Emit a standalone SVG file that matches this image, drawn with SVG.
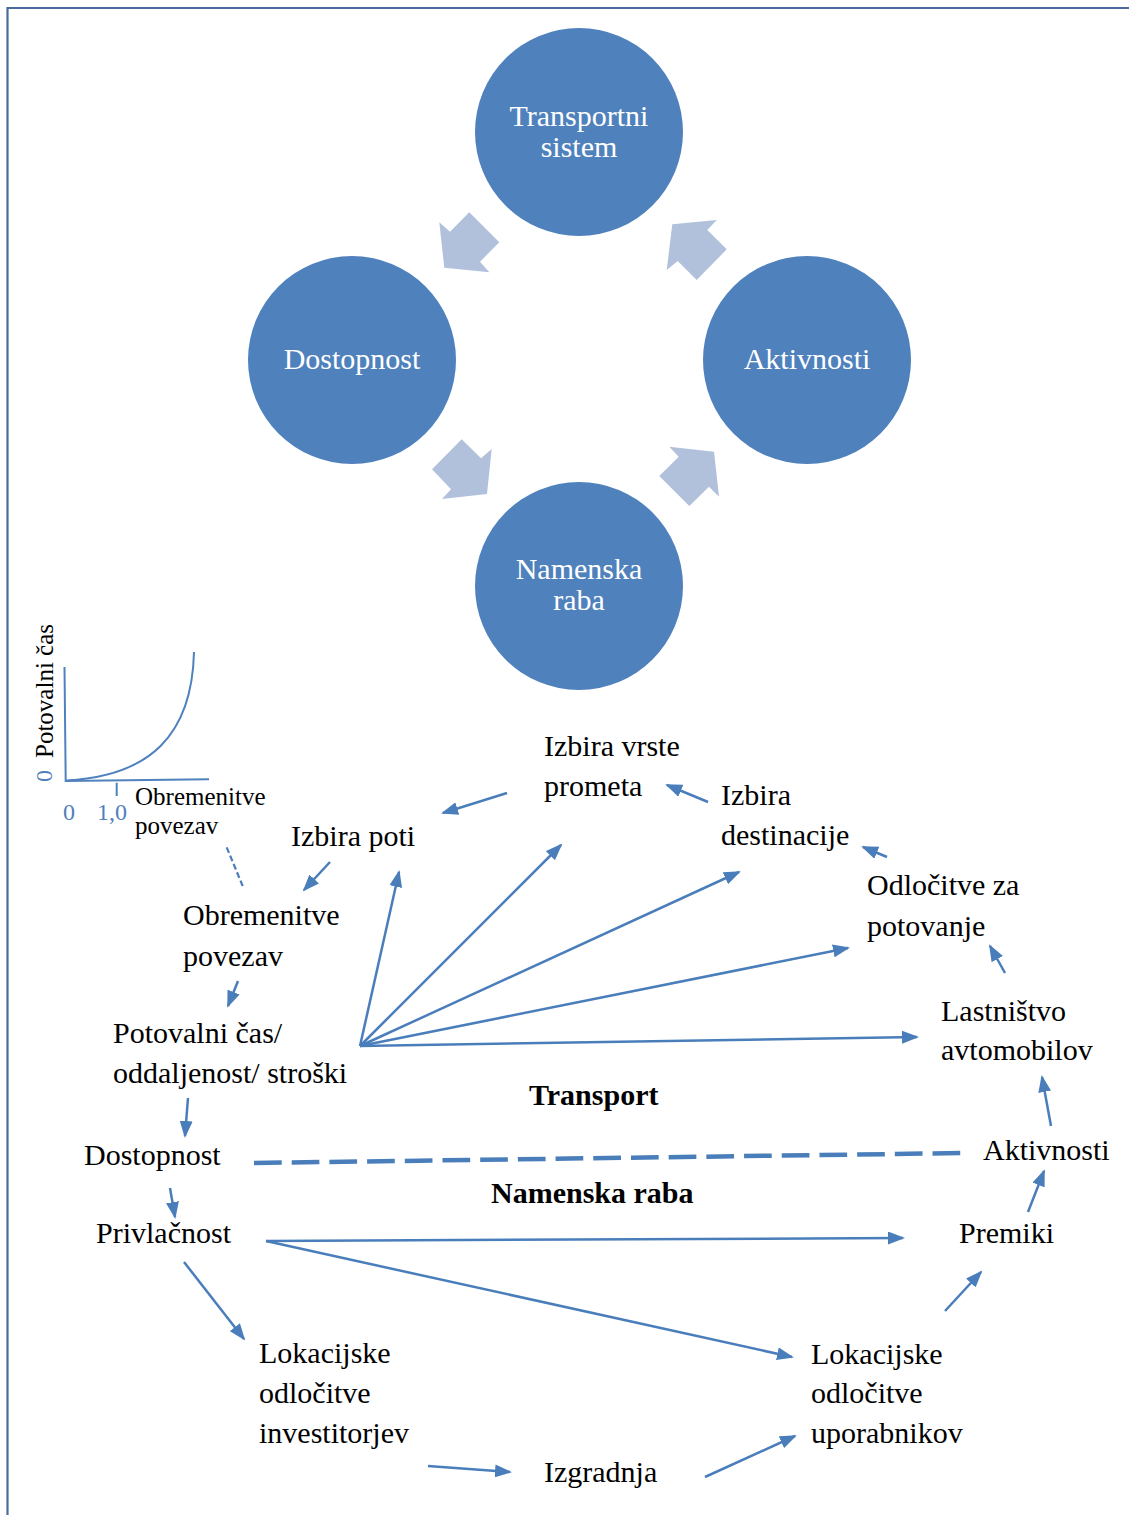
<svg xmlns="http://www.w3.org/2000/svg" width="1129" height="1515" viewBox="0 0 1129 1515">
<style>
.t{font-family:"Liberation Serif","Times New Roman",serif;font-size:30px;fill:#000}
.b{font-weight:bold}
.w{fill:#fff;text-anchor:middle}
.c{fill:#4f81bd}
.ba{fill:#b1c1dc}
.cn{stroke:#4a7ebb;stroke-width:2.5;fill:none;marker-end:url(#ah)}
.s{font-family:"Liberation Serif","Times New Roman",serif;font-size:25px;fill:#000}
.n{font-family:"Liberation Serif","Times New Roman",serif;font-size:24px;fill:#4f81bd}
</style>
<defs>
<marker id="ah" markerUnits="userSpaceOnUse" markerWidth="17" markerHeight="13" refX="15" refY="6.5" orient="auto">
<path d="M0,0 L17,6.5 L0,13 z" fill="#4a7ebb"/>
</marker>
</defs>
<rect width="1129" height="1515" fill="#fff"/>
<path d="M7.5,1515 V8 H1129" fill="none" stroke="#4a6c9c" stroke-width="2.2"/>

<g id="cycle">
<g id="node-transportni"><circle class="c" cx="579" cy="132" r="104"/><text class="t w" x="579" y="126">Transportni</text><text class="t w" x="579" y="157">sistem</text></g>
<g id="node-dostopnost-c"><circle class="c" cx="352" cy="360" r="104"/><text class="t w" x="352" y="369">Dostopnost</text></g>
<g id="node-aktivnosti-c"><circle class="c" cx="807" cy="360" r="104"/><text class="t w" x="807" y="369">Aktivnosti</text></g>
<g id="node-namenska-c"><circle class="c" cx="579" cy="586" r="104"/><text class="t w" x="579" y="579">Namenska</text><text class="t w" x="579" y="610">raba</text></g>
<g id="block-arrows">
<polygon class="ba" points="469.3,212.3 499.3,242.3 480,261.7 489.3,272.3 444.3,267.7 439.3,222.3 450,231.7"/>
<polygon class="ba" points="672.3,224.3 716.7,220 707.3,230 726.7,249.3 696.7,280 677.7,261 666.7,270"/>
<polygon class="ba" points="461.7,439.3 481,458.3 491.7,449 487,494 442,499 451,489.3 432,469.3"/>
<polygon class="ba" points="669.3,446.7 714,451.7 719,496.7 709,486.7 689.3,506 659.3,476 678.7,456.7"/>
</g>
</g>

<g id="chart">
<path d="M64.5,667 L65.7,781 L209,779.3" fill="none" stroke="#4f81bd" stroke-width="2"/>
<path d="M116.7,782.7 V796" stroke="#4f81bd" stroke-width="2"/>
<path d="M66.5,780.5 C150,776 192,735 194,652" fill="none" stroke="#4f81bd" stroke-width="2"/>
<text class="s" transform="translate(53,758) rotate(-90)">Potovalni čas</text>
<text class="n" transform="translate(52,782) rotate(-90)">0</text>
<text class="n" x="63" y="820">0</text>
<text class="n" x="97" y="820">1,0</text>
<text class="s" x="135" y="805">Obremenitve</text>
<text class="s" x="135" y="834">povezav</text>
</g>

<g id="nodes">
<g id="n-vrste"><text class="t" x="544" y="756">Izbira vrste</text><text class="t" x="544" y="796">prometa</text></g>
<g id="n-destinacije"><text class="t" x="721" y="805">Izbira</text><text class="t" x="721" y="845">destinacije</text></g>
<g id="n-poti"><text class="t" x="291" y="846">Izbira poti</text></g>
<g id="n-odlocitve"><text class="t" x="867" y="895">Odločitve za</text><text class="t" x="867" y="936">potovanje</text></g>
<g id="n-obremenitve"><text class="t" x="183" y="925">Obremenitve</text><text class="t" x="183" y="966">povezav</text></g>
<g id="n-lastnistvo"><text class="t" x="941" y="1021">Lastništvo</text><text class="t" x="941" y="1060">avtomobilov</text></g>
<g id="n-potovalni"><text class="t" x="113" y="1043">Potovalni čas/</text><text class="t" x="113" y="1083">oddaljenost/ stroški</text></g>
<g id="n-transport"><text class="t b" x="529" y="1105">Transport</text></g>
<g id="n-dostopnost"><text class="t" x="84" y="1165">Dostopnost</text></g>
<g id="n-aktivnosti"><text class="t" x="983" y="1160">Aktivnosti</text></g>
<g id="n-namenska"><text class="t b" x="491" y="1203">Namenska raba</text></g>
<g id="n-privlacnost"><text class="t" x="96" y="1243">Privlačnost</text></g>
<g id="n-premiki"><text class="t" x="959" y="1243">Premiki</text></g>
<g id="n-lok-inv"><text class="t" x="259" y="1363">Lokacijske</text><text class="t" x="259" y="1403">odločitve</text><text class="t" x="259" y="1443">investitorjev</text></g>
<g id="n-lok-upo"><text class="t" x="811" y="1364">Lokacijske</text><text class="t" x="811" y="1403">odločitve</text><text class="t" x="811" y="1443">uporabnikov</text></g>
<g id="n-izgradnja"><text class="t" x="544" y="1482">Izgradnja</text></g>
</g>

<g id="connectors">
<line class="cn" x1="507" y1="793" x2="443" y2="813"/>
<line class="cn" x1="708" y1="802" x2="667" y2="785"/>
<line class="cn" x1="887" y1="857" x2="863" y2="847"/>
<line class="cn" x1="1005" y1="973" x2="990" y2="946"/>
<line class="cn" x1="1051" y1="1126" x2="1042" y2="1077"/>
<line class="cn" x1="1028" y1="1212" x2="1044" y2="1171"/>
<line class="cn" x1="945" y1="1311" x2="981" y2="1272"/>
<line class="cn" x1="705" y1="1477" x2="795" y2="1436"/>
<line class="cn" x1="428" y1="1466" x2="510" y2="1472"/>
<line class="cn" x1="184" y1="1262" x2="244" y2="1339"/>
<line class="cn" x1="266" y1="1241" x2="903" y2="1238"/>
<line class="cn" x1="266" y1="1241" x2="792" y2="1357"/>
<line class="cn" x1="170" y1="1188" x2="175" y2="1217"/>
<line class="cn" x1="188" y1="1098" x2="185" y2="1136"/>
<line class="cn" x1="238" y1="981" x2="228" y2="1006"/>
<line class="cn" x1="330" y1="862" x2="304" y2="890"/>
<line class="cn" x1="360" y1="1046" x2="399" y2="872"/>
<line class="cn" x1="360" y1="1046" x2="561" y2="845"/>
<line class="cn" x1="360" y1="1046" x2="739" y2="872"/>
<line class="cn" x1="360" y1="1046" x2="848" y2="948"/>
<line class="cn" x1="360" y1="1046" x2="917" y2="1037"/>
<line x1="226.7" y1="847.3" x2="242.7" y2="886" stroke="#4a7ebb" stroke-width="2.2" stroke-dasharray="6,3"/>
<line x1="254" y1="1163" x2="965" y2="1153" stroke="#4a7ebb" stroke-width="4.5" stroke-dasharray="27.7,10"/>
</g>
</svg>
